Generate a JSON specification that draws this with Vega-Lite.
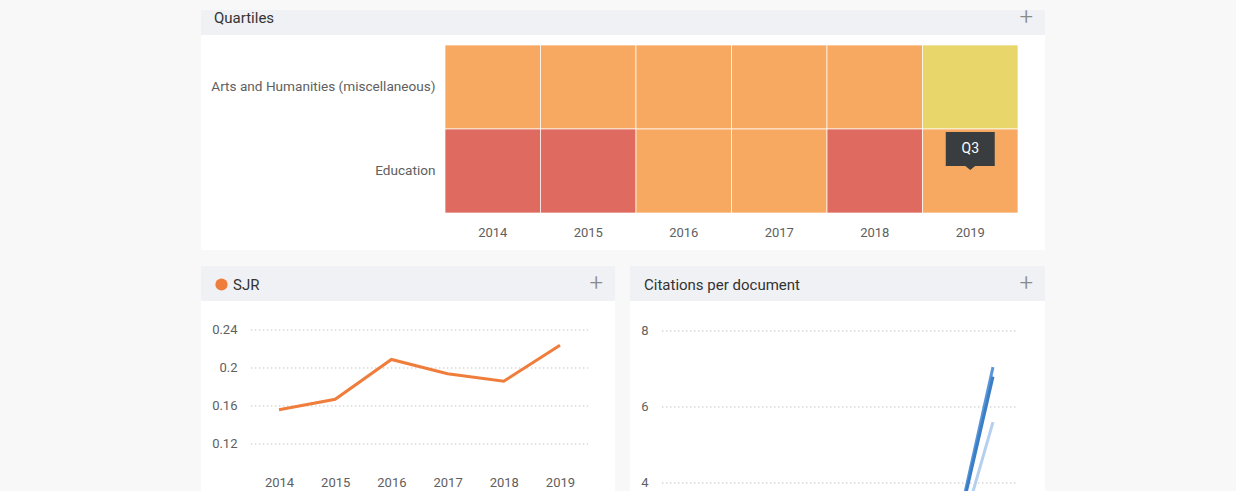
{
  "$schema": "https://vega.github.io/schema/vega-lite/v6.json",
  "background": "#f8f8f8",
  "padding": {"left": 201, "top": 6, "right": 191, "bottom": 0},
  "config": {
    "font": "Roboto",
    "view": {"stroke": null},
    "axis": {"labelFont": "Roboto", "labelFontSize": 13, "labelColor": "#606060", "ticks": false, "domain": false, "grid": false, "title": null},
    "legend": {"labelFont": "Roboto"},
    "title": {"font": "Roboto"}
  },
  "spacing": 16,
  "resolve": {"scale": {"x": "independent", "y": "independent", "color": "independent", "strokeWidth": "independent"}, "legend": {"color": "independent", "strokeWidth": "independent"}},
  "vconcat": [
    {
      "spacing": 0,
      "bounds": "flush",
      "vconcat": [
        {
          "width": 844,
          "height": 25,
          "view": {"fill": "#f0f1f4", "stroke": null},
          "title": {"text": "Quartiles", "anchor": "start", "orient": "top", "offset": -16, "dx": 13, "fontSize": 15, "fontWeight": "normal", "color": "#333333"},
          "data": {"values": []},
          "mark": "text"
        },
        {
          "width": 844,
          "height": 215,
          "view": {"fill": "#ffffff", "stroke": null},
          "title": {"text": "+", "anchor": "end", "orient": "top", "offset": 5, "dx": -12, "fontSize": 24, "fontWeight": 300, "color": "#8a8a8a"},
          "data": {
            "values": [
              {"subject": "Arts and Humanities (miscellaneous)", "year": 2014, "quartile": "Q3"},
              {"subject": "Arts and Humanities (miscellaneous)", "year": 2015, "quartile": "Q3"},
              {"subject": "Arts and Humanities (miscellaneous)", "year": 2016, "quartile": "Q3"},
              {"subject": "Arts and Humanities (miscellaneous)", "year": 2017, "quartile": "Q3"},
              {"subject": "Arts and Humanities (miscellaneous)", "year": 2018, "quartile": "Q3"},
              {"subject": "Arts and Humanities (miscellaneous)", "year": 2019, "quartile": "Q2"},
              {"subject": "Education", "year": 2014, "quartile": "Q4"},
              {"subject": "Education", "year": 2015, "quartile": "Q4"},
              {"subject": "Education", "year": 2016, "quartile": "Q3"},
              {"subject": "Education", "year": 2017, "quartile": "Q3"},
              {"subject": "Education", "year": 2018, "quartile": "Q4"},
              {"subject": "Education", "year": 2019, "quartile": "Q3"}
            ]
          },
          "encoding": {
            "x": {"field": "year", "type": "ordinal", "scale": {"paddingInner": 0, "paddingOuter": 0, "range": [244, 817]}, "axis": {"orient": "bottom", "offset": -37, "labelPadding": 13, "labelAngle": 0}},
            "y": {"field": "subject", "type": "nominal", "sort": ["Arts and Humanities (miscellaneous)", "Education"], "scale": {"paddingInner": 0, "paddingOuter": 0, "range": [10, 178]}, "axis": {"offset": -244, "labelPadding": 10, "labelLimit": 400, "labelFontSize": 13.6}}
          },
          "layer": [
            {
              "mark": {"type": "rect", "stroke": "#ffffff", "strokeWidth": 1, "strokeOpacity": 0.7},
              "encoding": {
                "color": {"field": "quartile", "type": "nominal", "scale": {"domain": ["Q1", "Q2", "Q3", "Q4"], "range": ["#a4cf63", "#e8d66a", "#f8a961", "#df6a5f"]}, "legend": null}
              }
            },
            {
              "transform": [{"filter": "datum.subject === 'Education' && datum.year === 2019"}],
              "mark": {"type": "point", "shape": "M-1,-0.694L1,-0.694L1,0.694L0.2,0.694L0,0.857L-0.2,0.694L-1,0.694Z", "size": 2401, "filled": true, "fill": "#3a3d40", "opacity": 1, "strokeWidth": 0, "yOffset": -22}
            },
            {
              "transform": [{"filter": "datum.subject === 'Education' && datum.year === 2019"}],
              "mark": {"type": "text", "color": "#ffffff", "fontSize": 14, "baseline": "middle", "yOffset": -22},
              "encoding": {"text": {"field": "quartile"}}
            }
          ]
        }
      ]
    },
    {
      "spacing": 15,
      "resolve": {"scale": {"x": "independent", "y": "independent", "color": "independent", "strokeWidth": "independent"}, "legend": {"color": "independent", "strokeWidth": "independent"}},
      "hconcat": [
        {
          "spacing": 0,
          "bounds": "flush",
          "vconcat": [
            {
              "width": 414,
              "height": 35,
              "view": {"fill": "#f0f1f4", "stroke": null},
              "data": {"values": []},
              "mark": "text"
            },
            {
              "width": 414,
              "height": 190,
              "view": {"fill": "#ffffff", "stroke": null},
              "title": {"text": "+", "anchor": "end", "orient": "top", "offset": 5, "dx": -12, "fontSize": 24, "fontWeight": 300, "color": "#8a8a8a"},
              "layer": [
                {
                  "data": {"values": [{"v": 0.12}, {"v": 0.16}, {"v": 0.2}, {"v": 0.24}]},
                  "mark": {"type": "rule", "color": "#c4c4c4", "strokeWidth": 1, "strokeDash": [1.5, 2.5]},
                  "encoding": {
                    "x": {"datum": 2013.5, "type": "quantitative", "scale": {"domain": [2012.612, 2019.979], "nice": false, "zero": false}},
                    "x2": {"datum": 2019.5},
                    "y": {"field": "v", "type": "quantitative", "scale": {"domain": [0.0705, 0.2705], "nice": false, "zero": false}}
                  }
                },
                {
                  "data": {
                    "values": [
                      {"series": "SJR", "year": 2014, "sjr": 0.156},
                      {"series": "SJR", "year": 2015, "sjr": 0.167},
                      {"series": "SJR", "year": 2016, "sjr": 0.209},
                      {"series": "SJR", "year": 2017, "sjr": 0.194},
                      {"series": "SJR", "year": 2018, "sjr": 0.186},
                      {"series": "SJR", "year": 2019, "sjr": 0.224}
                    ]
                  },
                  "mark": {"type": "line", "strokeWidth": 3, "clip": true},
                  "encoding": {
                    "x": {"field": "year", "type": "quantitative", "scale": {"domain": [2012.612, 2019.979], "nice": false, "zero": false}, "axis": {"values": [2014, 2015, 2016, 2017, 2018, 2019], "format": "d", "offset": -16, "labelPadding": 1}},
                    "y": {"field": "sjr", "type": "quantitative", "scale": {"domain": [0.0705, 0.2705], "nice": false, "zero": false}, "axis": {"values": [0.12, 0.16, 0.2, 0.24], "format": "~g", "offset": -50, "labelPadding": 14}},
                    "color": {
                      "field": "series", "type": "nominal",
                      "scale": {"domain": ["SJR"], "range": ["#ef7d3c"]},
                      "legend": {"orient": "none", "legendX": 13, "legendY": 11, "title": null, "padding": 0, "symbolType": "circle", "symbolSize": 150, "symbolFillColor": "#ef7d3c", "symbolStrokeColor": "#ef7d3c", "symbolStrokeWidth": 0, "labelFontSize": 15, "labelColor": "#333333", "labelOffset": 4, "encode": {"symbols": {"update": {"fill": {"value": "#ef7d3c"}, "strokeWidth": {"value": 0}}}}}
                    }
                  }
                }
              ]
            }
          ]
        },
        {
          "spacing": 0,
          "bounds": "flush",
          "vconcat": [
            {
              "width": 415,
              "height": 35,
              "view": {"fill": "#f0f1f4", "stroke": null},
              "title": {"text": "Citations per document", "anchor": "start", "orient": "top", "offset": -27, "dx": 14, "fontSize": 15, "fontWeight": "normal", "color": "#333333"},
              "data": {"values": []},
              "mark": "text"
            },
            {
              "width": 415,
              "height": 190,
              "view": {"fill": "#ffffff", "stroke": null},
              "title": {"text": "+", "anchor": "end", "orient": "top", "offset": 5, "dx": -12, "fontSize": 24, "fontWeight": 300, "color": "#8a8a8a"},
              "layer": [
                {
                  "data": {"values": [{"v": 4}, {"v": 6}, {"v": 8}]},
                  "mark": {"type": "rule", "color": "#c4c4c4", "strokeWidth": 1, "strokeDash": [1.5, 2.5]},
                  "encoding": {
                    "x": {"datum": 2013.293, "type": "quantitative", "scale": {"domain": [2012.741, 2019.897], "nice": false, "zero": false}},
                    "x2": {"datum": 2019.431},
                    "y": {"field": "v", "type": "quantitative", "scale": {"domain": [3.789, 8.789], "nice": false, "zero": false}}
                  }
                },
                {
                  "data": {
                    "values": [
                      {"series": "Cites / Doc. (2 years)", "year": 2014, "value": 0.2},
                      {"series": "Cites / Doc. (2 years)", "year": 2015, "value": 0.3},
                      {"series": "Cites / Doc. (2 years)", "year": 2016, "value": 0.4},
                      {"series": "Cites / Doc. (2 years)", "year": 2017, "value": 0.3},
                      {"series": "Cites / Doc. (2 years)", "year": 2018, "value": 0.3},
                      {"series": "Cites / Doc. (2 years)", "year": 2019, "value": 5.6},
                      {"series": "Cites / Doc. (3 years)", "year": 2014, "value": 0.3},
                      {"series": "Cites / Doc. (3 years)", "year": 2015, "value": 0.4},
                      {"series": "Cites / Doc. (3 years)", "year": 2016, "value": 0.5},
                      {"series": "Cites / Doc. (3 years)", "year": 2017, "value": 0.4},
                      {"series": "Cites / Doc. (3 years)", "year": 2018, "value": 0.2},
                      {"series": "Cites / Doc. (3 years)", "year": 2019, "value": 7.05},
                      {"series": "Cites / Doc. (4 years)", "year": 2014, "value": 0.3},
                      {"series": "Cites / Doc. (4 years)", "year": 2015, "value": 0.4},
                      {"series": "Cites / Doc. (4 years)", "year": 2016, "value": 0.5},
                      {"series": "Cites / Doc. (4 years)", "year": 2017, "value": 0.4},
                      {"series": "Cites / Doc. (4 years)", "year": 2018, "value": 0.2},
                      {"series": "Cites / Doc. (4 years)", "year": 2019, "value": 6.8}
                    ]
                  },
                  "mark": {"type": "line", "strokeWidth": 3, "clip": true},
                  "encoding": {
                    "x": {"field": "year", "type": "quantitative", "scale": {"domain": [2012.741, 2019.897], "nice": false, "zero": false}, "axis": null},
                    "y": {"field": "value", "type": "quantitative", "scale": {"domain": [3.789, 8.789], "nice": false, "zero": false}, "axis": {"values": [4, 6, 8], "format": "d", "offset": -32, "labelPadding": 14}},
                    "color": {
                      "field": "series", "type": "nominal",
                      "scale": {"domain": ["Cites / Doc. (2 years)", "Cites / Doc. (3 years)", "Cites / Doc. (4 years)"], "range": ["#b4d0ee", "#5a96d7", "#3a7fc6"]},
                      "legend": null
                    },
                    "strokeWidth": {"field": "series", "type": "nominal", "scale": {"domain": ["Cites / Doc. (2 years)", "Cites / Doc. (3 years)", "Cites / Doc. (4 years)"], "range": [2.5, 3, 3.5]}, "legend": null}
                  }
                }
              ]
            }
          ]
        }
      ]
    }
  ]
}
